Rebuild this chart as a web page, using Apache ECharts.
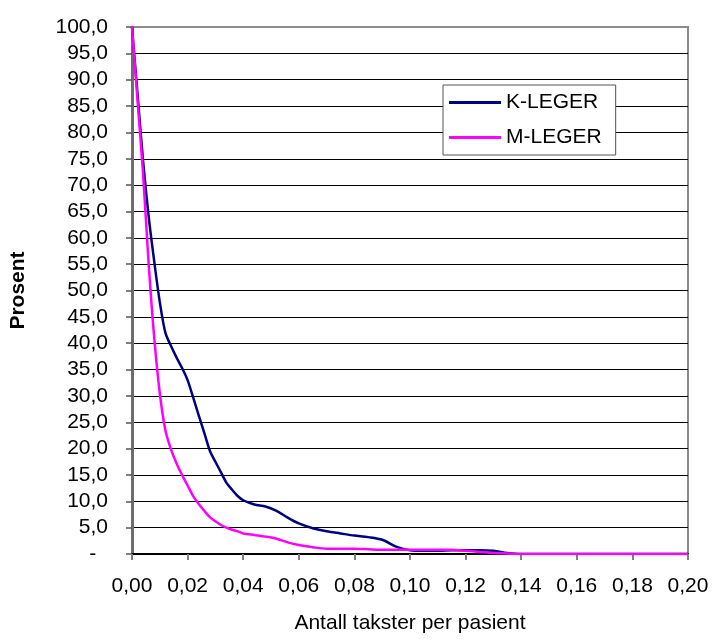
<!DOCTYPE html>
<html>
<head>
<meta charset="utf-8">
<script src="https://cdn.jsdelivr.net/npm/echarts@6/dist/echarts.min.js"></script>
<style>
html,body{margin:0;padding:0;background:#fff;}
#chart{width:713px;height:639px;}
</style>
</head>
<body>
<div id="chart"></div>
<script>
var xValues = [0, 0.002, 0.004, 0.006, 0.008, 0.010, 0.012, 0.014, 0.016, 0.018, 0.020, 0.022, 0.024, 0.026, 0.028, 0.030, 0.032, 0.034, 0.036, 0.038, 0.040, 0.044, 0.048, 0.052, 0.056, 0.060, 0.065, 0.070, 0.075, 0.080, 0.085, 0.090, 0.095, 0.100, 0.105, 0.110, 0.115, 0.120, 0.125, 0.130, 0.135, 0.140, 0.150, 0.160, 0.170, 0.180, 0.190, 0.200];
var kLeger = [100, 87.2, 74.5, 64.0, 55.5, 47.8, 42.0, 39.5, 37.3, 35.3, 33.0, 29.7, 26.3, 23.0, 19.6, 17.5, 15.5, 13.5, 12.2, 11.0, 10.2, 9.4, 9.0, 8.2, 6.9, 5.8, 4.9, 4.3, 3.9, 3.5, 3.2, 2.7, 1.4, 0.7, 0.6, 0.6, 0.7, 0.7, 0.7, 0.6, 0.2, 0, 0, 0, 0, 0, 0, 0];
var mLeger = [100, 86.0, 72.0, 55.0, 41.0, 30.5, 23.5, 19.9, 17.2, 15.0, 13.0, 11.0, 9.5, 8.2, 7.0, 6.2, 5.5, 5.0, 4.6, 4.3, 3.9, 3.6, 3.3, 2.9, 2.2, 1.7, 1.3, 1.0, 1.0, 1.0, 0.9, 0.8, 0.8, 0.8, 0.8, 0.8, 0.8, 0.6, 0.4, 0.2, 0.1, 0, 0, 0, 0, 0, 0, 0];
var seriesNames = ['K-LEGER', 'M-LEGER'];
var xTitle = 'Antall takster per pasient';
var yTitle = 'Prosent';

function pairs(ys) { return xValues.map(function (x, i) { return [x, ys[i]]; }); }

var chart = echarts.init(document.getElementById('chart'), null, {renderer: 'canvas'});
var font = 'Liberation Sans, Arial, sans-serif';
chart.setOption({
  animation: false,
  backgroundColor: '#ffffff',
  grid: {left: 131, right: 25, top: 27, bottom: 84, show: true, borderColor: '#8c8c8c', borderWidth: 2, backgroundColor: 'transparent'},
  legend: {
    orient: 'vertical', left: 443, top: 85,
    data: [{name: seriesNames[0], icon: 'rect'}, {name: seriesNames[1], icon: 'rect'}],
    itemWidth: 52, itemHeight: 3, itemGap: 14,
    padding: [7, 14, 7, 6],
    borderColor: '#555', borderWidth: 1, backgroundColor: '#fff',
    textStyle: {fontFamily: font, fontSize: 21, color: '#000', lineHeight: 21}
  },
  xAxis: {
    type: 'value', min: 0, max: 0.2, interval: 0.02,
    name: xTitle, nameLocation: 'middle', nameGap: 59,
    nameTextStyle: {fontFamily: font, fontSize: 21, color: '#000'},
    axisLine: {show: true, onZero: false, lineStyle: {color: '#000', width: 2}},
    axisTick: {show: true, length: 6, lineStyle: {color: '#808080', width: 2}},
    axisLabel: {margin: 22, fontFamily: font, fontSize: 21, color: '#000',
      formatter: function (v) { return v.toFixed(2).replace('.', ','); }},
    splitLine: {show: false}
  },
  yAxis: {
    type: 'value', min: 0, max: 100, interval: 5,
    name: yTitle, nameLocation: 'middle', nameGap: 103, nameRotate: 90,
    nameTextStyle: {fontFamily: font, fontSize: 21, fontWeight: 'bold', color: '#000'},
    axisLine: {show: true, lineStyle: {color: '#6e6e6e', width: 3}},
    axisTick: {show: true, length: 6, lineStyle: {color: '#555', width: 1.5}},
    axisLabel: {margin: 24, fontFamily: font, fontSize: 21, color: '#000',
      formatter: function (v) { return v === 0 ? '-\u00a0\u00a0' : v.toFixed(1).replace('.', ','); }},
    splitLine: {show: true, showMinLine: false, showMaxLine: false, lineStyle: {color: '#000', width: 1}}
  },
  series: [
    {name: seriesNames[0], type: 'line', data: pairs(kLeger), showSymbol: false, symbol: 'none',
      smooth: 0.3, lineStyle: {color: '#000080', width: 2.5}, itemStyle: {color: '#000080'}},
    {name: seriesNames[1], type: 'line', data: pairs(mLeger), showSymbol: false, symbol: 'none',
      smooth: 0.3, lineStyle: {color: '#ff00ff', width: 2.5}, itemStyle: {color: '#ff00ff'}}
  ]
});
</script>
</body>
</html>
